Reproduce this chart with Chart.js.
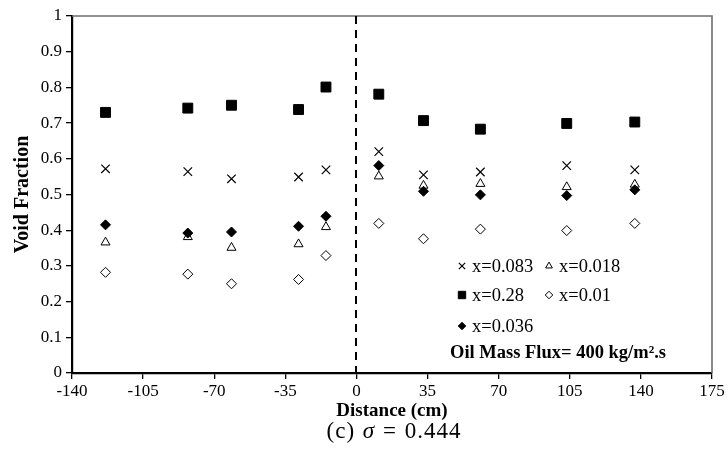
<!DOCTYPE html>
<html>
<head>
<meta charset="utf-8">
<title>Void Fraction vs Distance</title>
<script src="https://cdn.jsdelivr.net/npm/chart.js@4"></script>
<style>
    body { margin: 0; background: #fff; }
    #wrap { position: relative; width: 728px; height: 457px; }
    #caption {
        position: absolute; left: 0; top: 418px; width: 788px;
        text-align: center; font-family: "Liberation Serif", serif;
        font-size: 23px; color: #000; letter-spacing: 1px; word-spacing: 1px;
    }
</style>
</head>
<body>
<div id="wrap">
    <canvas id="voidChart"></canvas>
    <div id="caption">(c) <i>σ</i> = 0.444</div>
</div>
<script>
// measurement stations (cm from the junction)
const distance = [-123.5, -83, -61.5, -28.5, -15, 11, 33, 61, 103.5, 137];

// void fraction for each gas quality
const vf083 = [0.572, 0.564, 0.544, 0.549, 0.569, 0.620, 0.555, 0.563, 0.581, 0.569];
const vf018 = [0.366, 0.381, 0.351, 0.361, 0.409, 0.551, 0.525, 0.530, 0.521, 0.528];
const vf28 = [0.730, 0.742, 0.750, 0.738, 0.801, 0.781, 0.707, 0.683, 0.699, 0.703];
const vf01 = [0.282, 0.277, 0.250, 0.262, 0.329, 0.419, 0.376, 0.403, 0.399, 0.419];
const vf036 = [0.415, 0.392, 0.395, 0.411, 0.439, 0.581, 0.509, 0.499, 0.497, 0.513];

const seriesLabels = ['x=0.083', 'x=0.018', 'x=0.28', 'x=0.01', 'x=0.036'];

const xTicks = [-140, -105, -70, -35, 0, 35, 70, 105, 140, 175];
const yTickLabels = ['0', '0.1', '0.2', '0.3', '0.4', '0.5', '0.6', '0.7', '0.8', '0.9', '1'];

const noteText = 'Oil Mass Flux= 400 kg/m\u00B2.s';

function toPoints(ys) {
    return ys.map((y, i) => ({ x: distance[i], y: y }));
}

// marker looks, shared by plot and legend
const markers = {
    'x=0.083': { pointStyle: 'crossRot', radius: 6, borderWidth: 1.2, borderColor: '#000', backgroundColor: '#000' },
    'x=0.018': { pointStyle: 'triangle', radius: 5.2, borderWidth: 1, borderColor: '#000', backgroundColor: '#fff' },
    'x=0.28': { pointStyle: 'rect', radius: 7, borderWidth: 1, borderColor: '#000', backgroundColor: '#000' },
    'x=0.01': { pointStyle: 'rectRot', radius: 5, borderWidth: 1, borderColor: '#000', backgroundColor: '#fff' },
    'x=0.036': { pointStyle: 'rectRot', radius: 5, borderWidth: 1, borderColor: '#000', backgroundColor: '#000' }
};

function makeDataset(label, ys) {
    const m = markers[label];
    return {
        label: label,
        data: toPoints(ys),
        showLine: false,
        pointStyle: m.pointStyle,
        pointRadius: m.radius,
        pointBorderWidth: m.borderWidth,
        pointBorderColor: m.borderColor,
        pointBackgroundColor: m.backgroundColor
    };
}

// grey frame on top/right, dashed line at x = 0
const framePlugin = {
    id: 'frame',
    beforeDatasetsDraw(chart) {
        const { ctx, chartArea: a, scales } = chart;
        ctx.save();
        ctx.strokeStyle = '#6e6e6e';
        ctx.lineWidth = 1.6;
        ctx.beginPath();
        ctx.moveTo(a.left, a.top);
        ctx.lineTo(a.right, a.top);
        ctx.lineTo(a.right, a.bottom);
        ctx.stroke();

        const x0 = Math.round(scales.x.getPixelForValue(0));
        ctx.strokeStyle = '#000';
        ctx.lineWidth = 2;
        ctx.setLineDash([8, 6]);
        ctx.beginPath();
        ctx.moveTo(x0, a.top);
        ctx.lineTo(x0, a.bottom);
        ctx.stroke();
        ctx.restore();
    }
};

// two-column legend box plus the flux note, inside the plot
const legendPlugin = {
    id: 'innerLegend',
    afterDatasetsDraw(chart) {
        const { ctx, chartArea: a } = chart;
        const left = a.left + 390;
        const colGap = 87;
        const rowY = [a.top + 250, a.top + 279, a.top + 310];
        const slots = [[0, 0], [1, 0], [0, 1], [1, 1], [0, 2]];
        ctx.save();
        ctx.fillStyle = '#000';
        ctx.textBaseline = 'middle';
        ctx.textAlign = 'left';
        ctx.font = '18.5px "Liberation Serif", serif';
        seriesLabels.forEach((label, i) => {
            const [c, r] = slots[i];
            const mx = left + c * colGap;
            const y = rowY[r];
            const m = markers[label];
            ctx.strokeStyle = m.borderColor;
            ctx.fillStyle = m.backgroundColor;
            ctx.lineWidth = m.borderWidth;
            Chart.helpers.drawPoint(ctx, {
                pointStyle: m.pointStyle,
                radius: m.radius * 0.75,
                rotation: 0,
                borderWidth: m.borderWidth
            }, mx, y);
            ctx.fillStyle = '#000';
            ctx.fillText(label, mx + 10, y + 1);
        });
        ctx.font = 'bold 18.5px "Liberation Serif", serif';
        ctx.fillText(noteText, a.left + 378, a.top + 337);
        ctx.restore();
    }
};

const serif = '"Liberation Serif", "Times New Roman", serif';

const ctx = document.getElementById('voidChart').getContext('2d');
new Chart(ctx, {
    type: 'scatter',
    data: {
        datasets: [
            makeDataset('x=0.036', vf036),
            makeDataset('x=0.01', vf01),
            makeDataset('x=0.083', vf083),
            makeDataset('x=0.018', vf018),
            makeDataset('x=0.28', vf28)
        ]
    },
    options: {
        responsive: true,
        maintainAspectRatio: false,
        animation: false,
        events: [],
        layout: { padding: { left: 11, right: 16, top: 16, bottom: 35 } },
        plugins: {
            legend: { display: false },
            tooltip: { enabled: false }
        },
        scales: {
            x: {
                type: 'linear',
                min: -140,
                max: 175,
                afterBuildTicks: (scale) => { scale.ticks = xTicks.map(v => ({ value: v })); },
                afterFit: (scale) => { scale.height = 49; },
                ticks: {
                    color: '#000',
                    font: { family: serif, size: 17 },
                    padding: 2,
                    maxRotation: 0,
                    autoSkip: false
                },
                grid: {
                    display: true,
                    drawOnChartArea: false,
                    drawTicks: true,
                    tickLength: 6,
                    color: '#000',
                    lineWidth: 1.3
                },
                border: { display: true, color: '#000', width: 2.2 },
                title: {
                    display: true,
                    text: 'Distance (cm)',
                    color: '#000',
                    font: { family: serif, size: 19, weight: 'bold' },
                    padding: 0
                }
            },
            y: {
                type: 'linear',
                min: 0,
                max: 1,
                afterBuildTicks: (scale) => { scale.ticks = yTickLabels.map(t => ({ value: parseFloat(t) })); },
                afterFit: (scale) => { scale.width = 61; },
                ticks: {
                    color: '#000',
                    font: { family: serif, size: 17 },
                    padding: 4,
                    callback: (v, i) => yTickLabels[i]
                },
                grid: {
                    display: true,
                    drawOnChartArea: false,
                    drawTicks: true,
                    tickLength: 6,
                    color: '#000',
                    lineWidth: 1.3
                },
                border: { display: true, color: '#000', width: 2.2 },
                title: {
                    display: true,
                    text: 'Void Fraction',
                    color: '#000',
                    font: { family: serif, size: 20, weight: 'bold' },
                    padding: 0
                }
            }
        }
    },
    plugins: [framePlugin, legendPlugin]
});
</script>
</body>
</html>
